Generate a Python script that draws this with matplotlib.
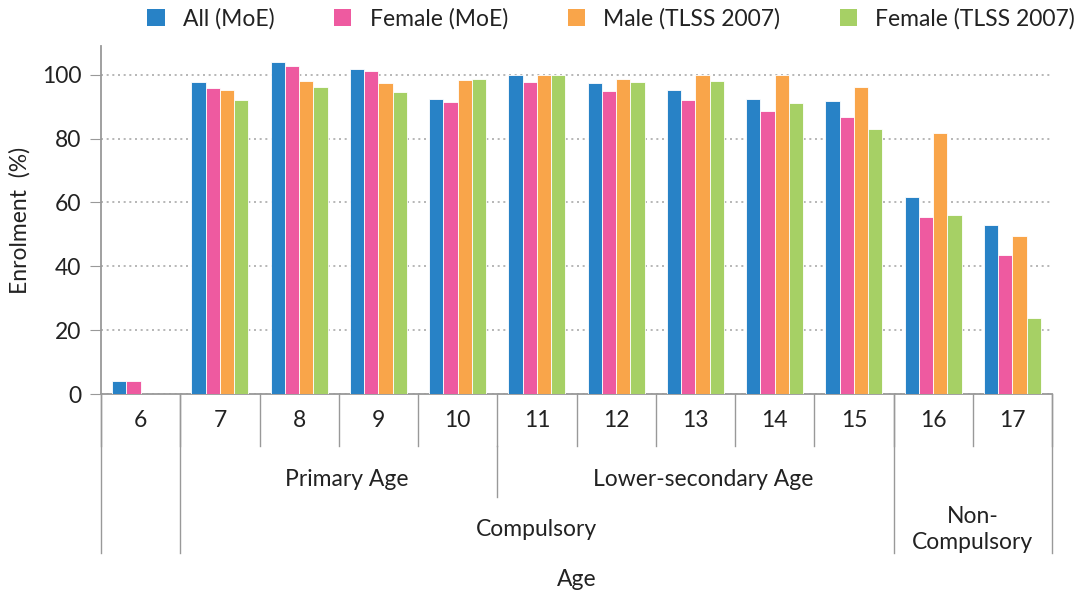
import numpy as np
import matplotlib
matplotlib.use("Agg")
import matplotlib.pyplot as plt
from matplotlib.patches import Patch

plt.rcParams["font.family"] = ["Lato", "DejaVu Sans"]

AGES = ["6", "7", "8", "9", "10", "11", "12", "13", "14", "15", "16", "17"]
SERIES = ["All (MoE)", "Female (MoE)", "Male (TLSS 2007)", "Female (TLSS 2007)"]
ALL_MOE = [4.0, 97.8, 104.1, 101.8, 92.4, 99.8, 97.3, 95.2, 92.3, 91.8, 61.7, 52.8]
FEMALE_MOE = [4.0, 95.7, 102.7, 101.1, 91.3, 97.7, 94.9, 92.1, 88.5, 86.9, 55.3, 43.6]
MALE_TLSS = [np.nan, 95.1, 98.0, 97.3, 98.4, 100.0, 98.6, 100.0, 100.0, 96.2, 81.7, 49.5]
FEMALE_TLSS = [np.nan, 92.1, 96.0, 94.7, 98.6, 100.0, 97.7, 98.0, 91.0, 83.0, 56.2, 23.7]
COLORS = ["#2882c6", "#ee5aa0", "#f9a54a", "#a6d065"]

# second / third level groupings: (label, first index, last index)
LEVEL2 = [("Primary Age", 1, 4), ("Lower-secondary Age", 5, 9)]
LEVEL3 = [("Compulsory", 1, 9), ("Non-\nCompulsory", 10, 11)]

FS = 16.5
TC = "#222222"

fig = plt.figure(figsize=(10.76, 5.97), dpi=100)
ax = fig.add_axes([0.0939, 0.340, 0.8838, 0.583])

x = np.arange(len(AGES))
w = 0.18
data = [ALL_MOE, FEMALE_MOE, MALE_TLSS, FEMALE_TLSS]
for k, (vals, c) in enumerate(zip(data, COLORS)):
    ax.bar(x + (k - 1.5) * w, vals, width=w, color=c, edgecolor="white",
           linewidth=0.6, zorder=3)

ax.set_xlim(-0.5, len(AGES) - 0.5)
ax.set_ylim(0, 109)
ax.set_yticks([0, 20, 40, 60, 80, 100])
ax.yaxis.grid(True, ls=(0, (1.2, 2.2)), color="#aaaaaa", lw=1.2, zorder=0)
ax.tick_params(axis="y", length=8, color="#999999", labelsize=FS,
               labelcolor=TC, pad=6)
ax.set_xticks([])
for s in ["top", "right"]:
    ax.spines[s].set_visible(False)
for s in ["left", "bottom"]:
    ax.spines[s].set_color("#999999")
    ax.spines[s].set_linewidth(1.3)
ax.set_ylabel("Enrolment  (%)", fontsize=FS, color=TC, labelpad=8)

# multi-level x axis drawn below the plot
tr = ax.get_xaxis_transform()
lc = "#999999"
y1, y2, y3 = -0.149, -0.296, -0.457
for i in range(len(AGES) + 1):
    ax.plot([i - 0.5, i - 0.5], [0, y1], color=lc, lw=1.0, transform=tr,
            clip_on=False)
for b in [-0.5, 0.5, 9.5, 11.5]:
    ax.plot([b, b], [0, y3], color=lc, lw=1.0, transform=tr, clip_on=False)
ax.plot([4.5, 4.5], [y1, y2], color=lc, lw=1.0, transform=tr, clip_on=False)

for i, a in enumerate(AGES):
    ax.text(i, -0.075, a, transform=tr, ha="center", va="center",
            fontsize=FS, color=TC)
for lab, i0, i1 in LEVEL2:
    ax.text((i0 + i1) / 2 + 0.1, -0.247, lab, transform=tr, ha="center",
            va="center", fontsize=FS, color=TC)
for lab, i0, i1 in LEVEL3:
    ax.text((i0 + i1) / 2, -0.39, lab, transform=tr, ha="center",
            va="center", fontsize=FS, color=TC, linespacing=1.3)
ax.text(5.5, -0.534, "Age", transform=tr, ha="center", va="center",
        fontsize=FS, color=TC)

handles = [Patch(facecolor=c, edgecolor="none") for c in COLORS]
fig.legend(handles, SERIES, loc="center", bbox_to_anchor=(0.568, 0.968),
           ncol=4, frameon=False, fontsize=FS, handlelength=0.75,
           handleheight=0.75, columnspacing=2.6, handletextpad=0.8,
           labelcolor=TC)

fig.savefig("out.png", dpi=100)
